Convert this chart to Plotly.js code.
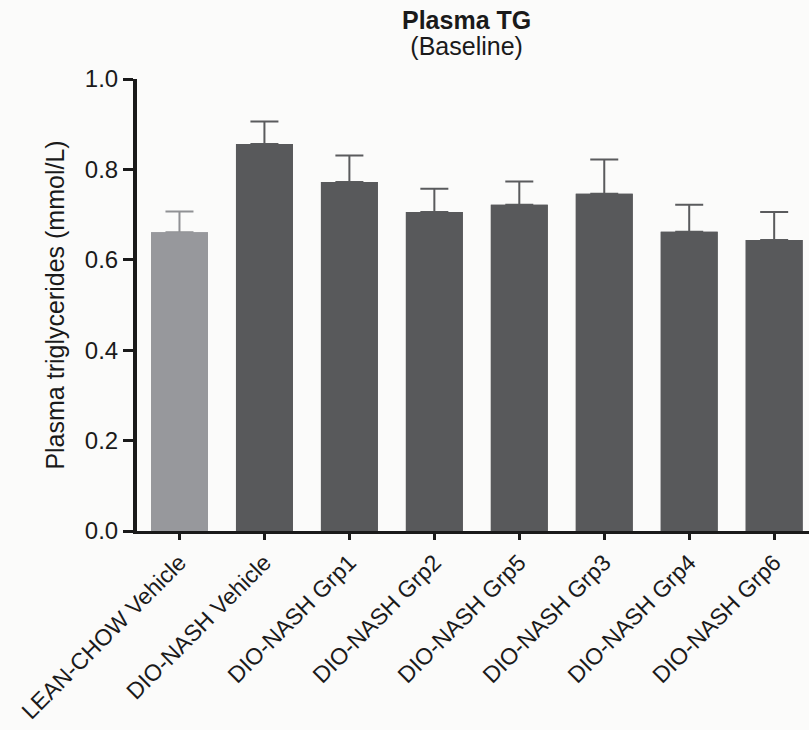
<!DOCTYPE html>
<html>
<head>
<meta charset="utf-8">
<script src="https://cdn.plot.ly/plotly-3.0.1.min.js"></script>
<style>html,body{margin:0;padding:0;background:#fbfbfa;}#chart{width:809px;height:730px;}</style>
</head>
<body>
<div id="chart"></div>
<script>
const categories = ["LEAN-CHOW Vehicle","DIO-NASH Vehicle","DIO-NASH Grp1","DIO-NASH Grp2","DIO-NASH Grp5","DIO-NASH Grp3","DIO-NASH Grp4","DIO-NASH Grp6"];
const means = [0.661, 0.856, 0.772, 0.706, 0.722, 0.746, 0.662, 0.644];
const sem = [0.046, 0.050, 0.059, 0.051, 0.051, 0.076, 0.060, 0.062];
const barColors = ["#97989c","#58595b","#58595b","#58595b","#58595b","#58595b","#58595b","#58595b"];
const errColors = ["#909194","#5a5b5d","#5a5b5d","#5a5b5d","#5a5b5d","#5a5b5d","#5a5b5d","#5a5b5d"];

const font = "Liberation Sans, Arial, Helvetica, sans-serif";
// error bars (one trace per group so each keeps its own colour)
const errTraces = categories.map((c, i) => ({
  type: "bar",
  x: [c],
  y: [means[i]],
  marker: {color: barColors[i], line: {width: 0}},
  error_y: {type: "data", symmetric: false, array: [sem[i]], arrayminus: [0], color: errColors[i], thickness: 2, width: 14},
  showlegend: false,
  hoverinfo: "skip"
}));
// bars drawn on top so the lower cap of each error bar is hidden
const barTrace = {
  type: "bar",
  x: categories,
  y: means,
  marker: {color: barColors, line: {width: 0}},
  showlegend: false,
  hoverinfo: "x+y"
};

const layout = {
  width: 809, height: 730,
  margin: {l: 137, r: 0, t: 79, b: 199},
  paper_bgcolor: "#fbfbfa",
  plot_bgcolor: "#fbfbfa",
  barmode: "overlay",
  bargap: 0.33,
  font: {family: font, color: "#1a1a1a", size: 24},
  xaxis: {
    type: "category",
    categoryorder: "array",
    categoryarray: categories,
    range: [-0.5, 7.41],
    showline: true, linecolor: "#1a1a1a", linewidth: 3,
    ticks: "outside", ticklen: 6, tickwidth: 3, tickcolor: "#1a1a1a",
    tickangle: -45,
    tickfont: {family: font, size: 23, color: "#1a1a1a"},
    showgrid: false, zeroline: false
  },
  yaxis: {
    range: [0, 1.0],
    tickvals: [0, 0.2, 0.4, 0.6, 0.8, 1.0],
    ticktext: ["0.0","0.2","0.4","0.6","0.8","1.0"],
    showline: true, linecolor: "#1a1a1a", linewidth: 4,
    ticks: "outside", ticklen: 10, tickwidth: 3, tickcolor: "#1a1a1a",
    tickfont: {family: font, size: 24, color: "#1a1a1a"},
    showgrid: false, zeroline: false,
    title: {text: "Plasma triglycerides (mmol/L)", font: {family: font, size: 25, color: "#1a1a1a"}, standoff: 14}
  },
  annotations: [
    {text: "<span style=\"font-size:25px\"><b>Plasma TG</b></span><br><span style=\"font-size:25px\">(Baseline)</span>",
     xref: "paper", yref: "paper", x: 0.491, y: 1, yshift: 46, xanchor: "center", yanchor: "middle",
     align: "center", showarrow: false, font: {family: font, size: 20, color: "#1a1a1a"}}
  ]
};

Plotly.newPlot("chart", errTraces.concat([barTrace]), layout, {displayModeBar: false, staticPlot: true});
</script>
</body>
</html>
